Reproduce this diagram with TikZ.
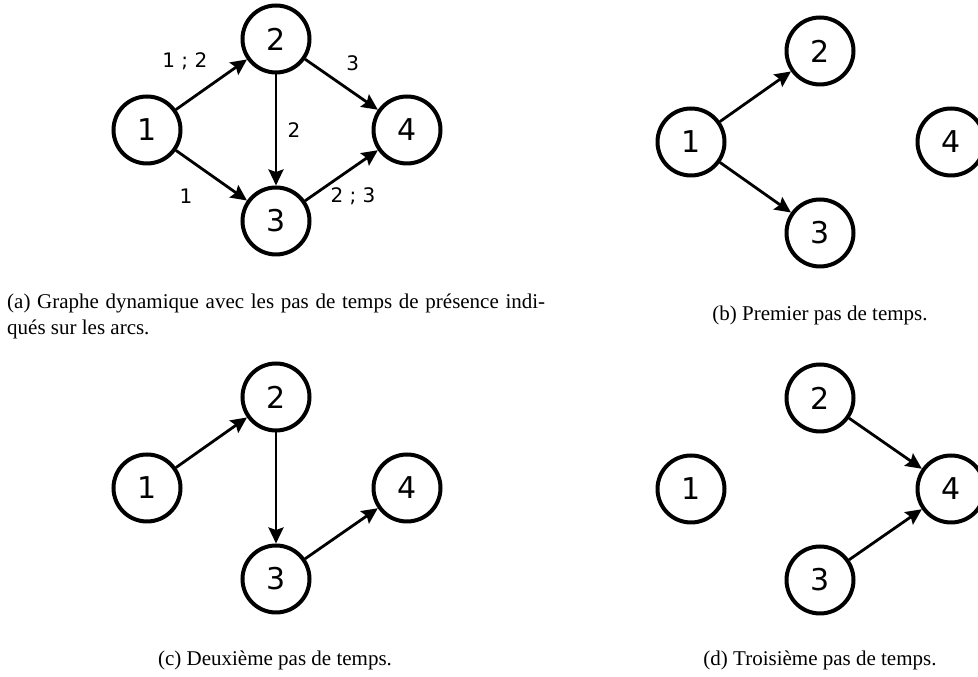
\documentclass[tikz,border=0pt]{standalone}
\usepackage{fontspec}
\setmainfont{Liberation Serif}
\newfontfamily\graphfont{DejaVu Sans}
\usetikzlibrary{positioning,arrows.meta}

\begin{document}
\begin{tikzpicture}[x=1pt, y=1pt,
	sommet/.style={circle, draw, line width=4pt, minimum size=67pt, inner sep=0pt,
		font=\graphfont\fontsize{30}{30}\selectfont},
	arc/.style={line width=2.8pt, -{Stealth[length=16pt,width=15pt,inset=2.5pt]}},
	etiquette/.style={font=\graphfont\fontsize{20}{20}\selectfont, inner sep=0pt},
	legende/.style={font=\fontsize{21}{26}\selectfont, inner sep=0pt},
	node distance=91pt and 129pt, on grid]
	\useasboundingbox (0,0) rectangle (978,677);

	% les quatre sommets de chaque graphe
	\foreach \g/\x/\y in {a/147/547, b/691/535, c/147/189, d/691/188} {
		\node[sommet] (\g1) at (\x,\y) {1};
		\node[sommet, above right=of \g1] (\g2) {2};
		\node[sommet, below right=of \g1] (\g3) {3};
		\node[sommet, right=260pt of \g1] (\g4) {4};
	}

	% (a) graphe dynamique
	\draw[arc] (a1) -- node[etiquette, pos=.4, xshift=-19.6pt, yshift=27.8pt] {1 ; 2} (a2);
	\draw[arc] (a1) -- node[etiquette, pos=.4, xshift=-18.4pt, yshift=-26.2pt] {1} (a3);
	\draw[arc] (a2) -- node[etiquette, pos=.47, xshift=13.4pt, yshift=19.3pt] {3} (a4);
	\draw[arc] (a2) -- node[etiquette, midway, xshift=18pt] {2} (a3);
	\draw[arc] (a3) -- node[etiquette, pos=.47, xshift=13.7pt, yshift=-19.7pt] {2 ; 3} (a4);

	% (b) premier pas de temps
	\draw[arc] (b1) -- (b2);
	\draw[arc] (b1) -- (b3);

	% (c) deuxieme pas de temps
	\draw[arc] (c1) -- (c2);
	\draw[arc] (c2) -- (c3);
	\draw[arc] (c3) -- (c4);

	% (d) troisieme pas de temps
	\draw[arc] (d2) -- (d4);
	\draw[arc] (d3) -- (d4);

	% legendes
	\node[legende, text width=538pt, align=justify, anchor=base west] (legA) at (7,368)
		{(a) Graphe dynamique avec les pas de temps de présence indi-\linebreak qués sur les arcs.};
	\node[legende, anchor=base] (legB) at (820,356) {(b) Premier pas de temps.};
	\node[legende, anchor=base] (legC) at (275,11) {(c) Deuxième pas de temps.};
	\node[legende, anchor=base] (legD) at (820,11) {(d) Troisième pas de temps.};
\end{tikzpicture}
\end{document}
